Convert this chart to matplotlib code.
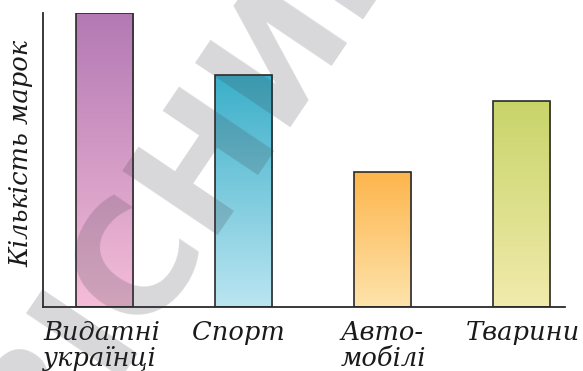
import numpy as np
import matplotlib
matplotlib.use('Agg')
import matplotlib.pyplot as plt
from matplotlib.colors import LinearSegmentedColormap

categories = ['Видатні\nукраїнці', 'Спорт', 'Авто-\nмобілі', 'Тварини']
values = [10, 7.9, 4.6, 7.0]
top_colors = ['#b379b4', '#3aafc9', '#fdb54c', '#c8d46a']
bottom_colors = ['#f5bdd8', '#bbe5f1', '#fee3ac', '#f1ebac']
label_shift = [-0.44, -0.37, -0.30, -0.40]
y_label = 'Кількість марок'
watermark = 'ВІСНИК'

W, H = 583, 371
fig = plt.figure(figsize=(W / 100, H / 100), dpi=100)
ax = fig.add_axes([43 / W, 1 - 307 / H, (565 - 43) / W, (307 - 13) / H])

x = np.arange(len(categories))
width = 0.41
bars = ax.bar(x, values, width=width, facecolor='none', edgecolor='#2a2a2a',
              linewidth=1.2, zorder=3)

# vertical gradient inside each bar
for bar, top, bottom in zip(bars, top_colors, bottom_colors):
    cmap = LinearSegmentedColormap.from_list('g', [bottom, top])
    grad = np.linspace(0, 1, 256).reshape(-1, 1)
    x0, w, h = bar.get_x(), bar.get_width(), bar.get_height()
    im = ax.imshow(grad, cmap=cmap, origin='lower', aspect='auto',
                   extent=[x0, x0 + w, 0, h], zorder=2)
    im.set_clip_path(bar)

ax.set_xlim(-0.442, 3.31)
ax.set_ylim(0, max(values))
ax.set_xticks([])
ax.set_yticks([])
for s in ['top', 'right']:
    ax.spines[s].set_visible(False)
for s in ['left', 'bottom']:
    ax.spines[s].set_color('#2a2a2a')
    ax.spines[s].set_linewidth(1.3)
ax.patch.set_alpha(0)

font = dict(family='DejaVu Serif', style='italic', size=18.5, color='#1a1a1a')
for xi, lab, dx in zip(x, categories, label_shift):
    ax.annotate(lab, xy=(xi + dx, 0), xycoords=('data', 'axes fraction'),
                xytext=(0, -9.5), textcoords='offset points',
                ha='left', va='top', linespacing=1.05, **font)

fig.text(21 / W, 1 - 153 / H, y_label, rotation=90, ha='center', va='center', **font)

# grey watermark across the picture
fig.text(196 / W, 1 - 170 / H, watermark, rotation=56, rotation_mode='anchor',
         ha='center', va='center', family='DejaVu Sans', weight='bold',
         size=112, color='#3c3c46', alpha=0.2, zorder=10)

fig.savefig('out.png', dpi=100)
